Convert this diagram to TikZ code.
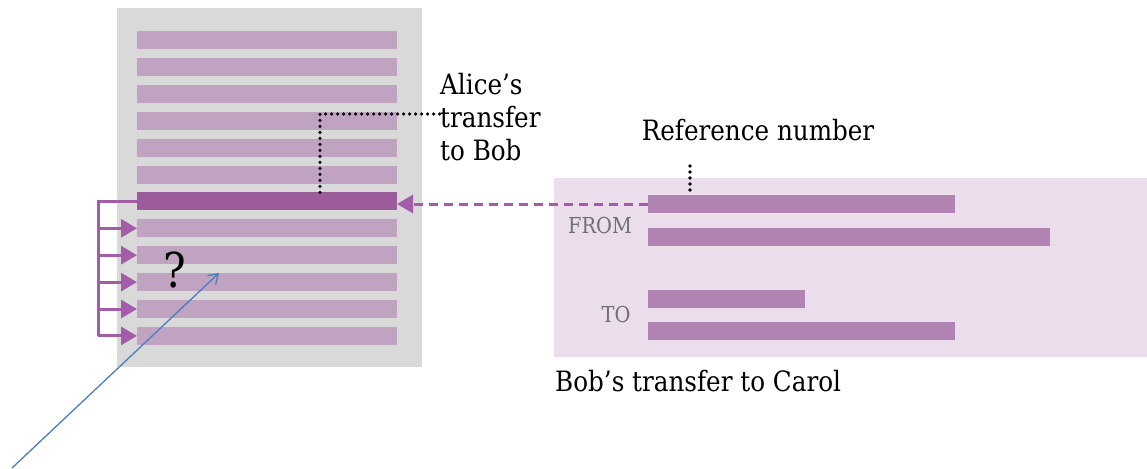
\documentclass[tikz,border=0pt]{standalone}
\usepackage{fontspec}
\setmainfont{DejaVu Serif}[FakeStretch=0.88]
\usetikzlibrary{arrows.meta}
\definecolor{panelgray}{HTML}{D9D9D9}
\definecolor{stripe}{HTML}{C0A3C1}
\definecolor{stripedark}{HTML}{9C5C9C}
\definecolor{txpanel}{HTML}{EBDDEB}
\definecolor{txbar}{HTML}{B083B3}
\definecolor{linkpurple}{HTML}{A35CA8}
\definecolor{labelgray}{HTML}{707070}
\definecolor{pointer}{HTML}{4A7EC2}
\begin{document}
\begin{tikzpicture}[x=1pt,y=-1pt,
  bar/.style={draw=none,inner sep=0pt,outer sep=0pt,anchor=north west,minimum height=18pt},
  ledgerrow/.style={bar,fill=stripe,minimum width=260pt},
  txrow/.style={bar,fill=txbar},
  caption/.style={font=\fontsize{28}{33}\selectfont,inner sep=0pt,text=black},
  fieldtag/.style={font=\fontsize{22}{24}\selectfont,inner sep=0pt,text=labelgray},
  dots/.style={black,line width=3.6pt,line cap=round,dash pattern=on 0pt off 6pt},
  feed/.style={linkpurple,line width=3pt},
  feedhead/.style={-{Triangle[length=16pt,width=18pt]}},
  feedarrow/.style={feed,feedhead},
]
\useasboundingbox (0,0) rectangle (1147,468);

% ledger page with its rows
\fill[panelgray] (117,8) rectangle (422,367);
\foreach \i in {0,...,5,7,8,9,10,11}
  \node[ledgerrow] (s\i) at (137,{31+26.9*\i}) {};
\node[ledgerrow,fill=stripedark] (s6) at (137,{31+26.9*6}) {};

% later rows fed from the highlighted row
\coordinate (rail) at (98,0);
\draw[feed] (s6.west) -| (rail |- s11.west);
\foreach \i in {7,...,11}
  \draw[feedarrow] (rail |- s\i.west) -- (s\i.west);

\node[font=\fontsize{48}{48}\selectfont,inner sep=0pt] (q) at (175,270) {?};

% transaction record
\fill[txpanel] (554,178) rectangle (1147,357);
\node[txrow,minimum width=307pt] (r1) at (648,195) {};
\node[txrow,minimum width=402pt] (r2) at (648,228) {};
\node[txrow,minimum width=157pt] (r3) at (648,290) {};
\node[txrow,minimum width=307pt] (r4) at (648,322) {};
\node[fieldtag] (from) at (600,225) {FROM};
\node[fieldtag] (to) at (616,314) {TO};
\node[caption,anchor=west] (bobcarol) at (555,381) {Bob’s transfer to Carol};

% reference link back to the ledger row
\draw[feed,feedhead,dash pattern=on 9pt off 6pt] (r1.west) -- (r1.west -| s6.east);

% annotations
\node[caption,anchor=west,align=left] (alice) at (440,117) {Alice’s\\transfer\\to Bob};
\coordinate (elbow) at (320,114);
\draw[dots] (elbow |- s6.north) -- (elbow) -- (alice.west |- elbow);
\node[caption] (refnum) at (758,130) {Reference number};
\coordinate (refpin) at (690,166);
\draw[dots] (refpin) -- (refpin |- r1.north);

% pointer
\coordinate (ptail) at (12,468);
\coordinate (phead) at (219,273);
\draw[pointer,line width=1.3pt,-{Straight Barb[length=9pt,width=12pt]}] (ptail) -- (phead);
\end{tikzpicture}
\end{document}
